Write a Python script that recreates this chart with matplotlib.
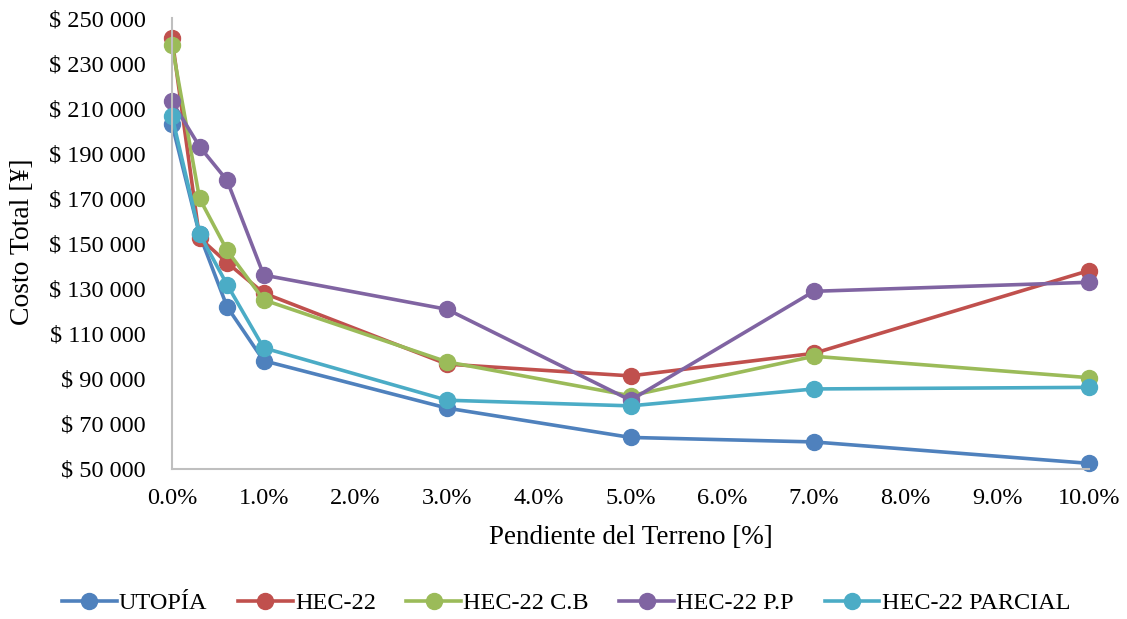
import matplotlib
matplotlib.use("Agg")
import matplotlib.pyplot as plt
from matplotlib.ticker import FuncFormatter

plt.rcParams["font.family"] = ["Liberation Serif", "DejaVu Serif"]

pendiente = [0.0, 0.003, 0.006, 0.01, 0.03, 0.05, 0.07, 0.10]

utopia = [203000, 154000, 122000, 98000, 77000, 64000, 62000, 52500]
hec22 = [241000, 152500, 141500, 128000, 96500, 91300, 101300, 138000]
hec22_cb = [238000, 170000, 147000, 125000, 97500, 82500, 100000, 90500]
hec22_pp = [213000, 193000, 178000, 136000, 120800, 80500, 128800, 132800]
hec22_parcial = [206500, 154300, 131800, 103700, 80500, 78000, 85500, 86200]

x_ticks = [i / 100 for i in range(11)]
y_ticks = list(range(50000, 250001, 20000))

series = [
    ("UTOPÍA", utopia, "#4F81BD"),
    ("HEC-22", hec22, "#C0504D"),
    ("HEC-22 C.B", hec22_cb, "#9BBB59"),
    ("HEC-22 P.P", hec22_pp, "#8064A2"),
    ("HEC-22 PARCIAL", hec22_parcial, "#4BACC6"),
]

fig = plt.figure(figsize=(11.27, 6.19), dpi=100)
ax = fig.add_axes([172 / 1127, 1 - 469 / 619, (1089 - 172) / 1127, (469 - 18) / 619])

for name, values, color in series:
    ax.plot(pendiente, values, color=color, lw=2.6, marker="o", ms=11.5,
            label=name, clip_on=False)

ax.set_xlim(0, 0.10)
ax.set_ylim(50000, 250000)
ax.set_xticks(x_ticks)
ax.set_yticks(y_ticks)
ax.xaxis.set_major_formatter(FuncFormatter(lambda v, _: f"{v * 100:.1f}%"))
ax.yaxis.set_major_formatter(
    FuncFormatter(lambda v, _: "$ " + f"{int(round(v)):,}".replace(",", " ")))

for side in ("top", "right"):
    ax.spines[side].set_visible(False)
for side in ("left", "bottom"):
    ax.spines[side].set_color("#BFBFBF")
    ax.spines[side].set_linewidth(1.5)

ax.tick_params(length=0, labelsize=17.5, colors="black")
ax.tick_params(axis="x", pad=14)
ax.tick_params(axis="y", pad=19)

ax.set_xlabel("Pendiente del Terreno [%]", fontsize=19.5)
ax.set_ylabel("Costo Total [¥]", fontsize=20)
ax.xaxis.set_label_coords(0.5, -(537 - 469) / 451, transform=ax.transAxes)
ax.xaxis.label.set_va("center")
ax.yaxis.set_label_coords(-(172 - 23) / 917, 0.5 - (242 - 243.5) / 451)
ax.yaxis.label.set_va("center")

fig.legend(loc="center", bbox_to_anchor=(566 / 1127, 1 - 603 / 619), ncol=5,
           frameon=False, fontsize=17.5, handlelength=2.25, handletextpad=0.1,
           columnspacing=1.25)

fig.savefig("out.png", dpi=100)
